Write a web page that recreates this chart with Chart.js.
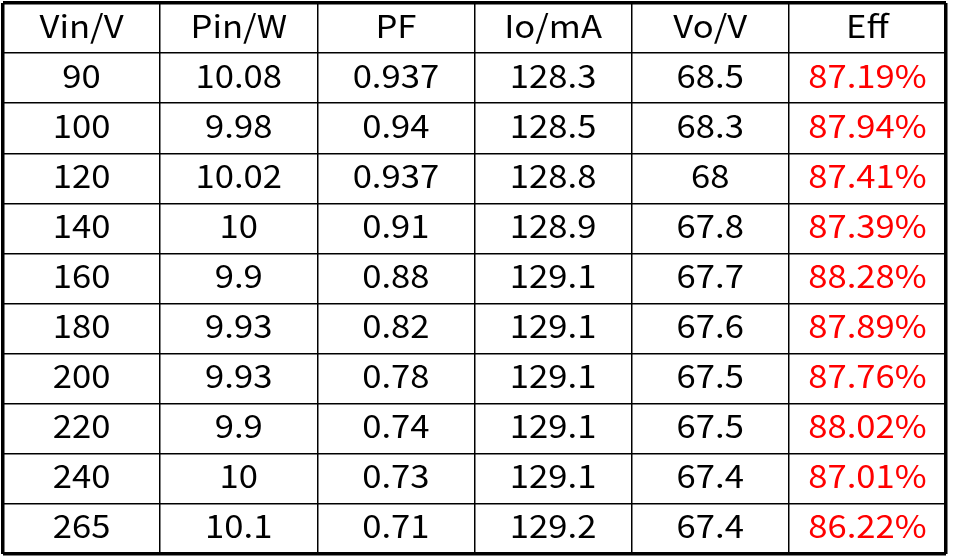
<!DOCTYPE html>
<html><head><meta charset="utf-8">
<script src="https://cdn.jsdelivr.net/npm/chart.js@4/dist/chart.umd.min.js"></script>
<style>html,body{margin:0;padding:0;background:#fff;overflow:hidden}#wrap{width:956px;height:558px;position:relative}</style>
</head><body><div id="wrap"><canvas id="c"></canvas></div>
<script>
const headers = ['Vin/V','Pin/W','PF','Io/mA','Vo/V','Eff'];
const vin = ['90','100','120','140','160','180','200','220','240','265'];
const pin = ['10.08','9.98','10.02','10','9.9','9.93','9.93','9.9','10','10.1'];
const pf  = ['0.937','0.94','0.937','0.91','0.88','0.82','0.78','0.74','0.73','0.71'];
const io  = ['128.3','128.5','128.8','128.9','129.1','129.1','129.1','129.1','129.1','129.2'];
const vo  = ['68.5','68.3','68','67.8','67.7','67.6','67.5','67.5','67.4','67.4'];
const eff = ['87.19%','87.94%','87.41%','87.39%','88.28%','87.89%','87.76%','88.02%','87.01%','86.22%'];
const rowKeys = ['head','r1','r2','r3','r4','r5','r6','r7','r8','r9','r10'];

const columns = [vin, pin, pf, io, vo, eff];
const textColors = ['#000','#000','#000','#000','#000','#ff0000'];
const FONT = '31.5px "Noto Sans CJK SC", "Noto Sans", sans-serif';

const datasets = columns.map((col, c) => ({
  label: headers[c],
  data: [headers[c], ...col].map((t, r) => ({x: headers[c], y: rowKeys[r], t: t, head: r === 0})),
  pointRadius: 0,
  pointHoverRadius: 0,
  textColor: textColors[c]
}));

const cellText = {
  id: 'cellText',
  afterDatasetsDraw(chart) {
    const ctx = chart.ctx;
    ctx.save();
    ctx.font = FONT;
    ctx.textAlign = 'center';
    ctx.textBaseline = 'alphabetic';
    chart.data.datasets.forEach((ds, di) => {
      const meta = chart.getDatasetMeta(di);
      meta.data.forEach((pt, i) => {
        const raw = ds.data[i];
        ctx.save();
        ctx.translate(pt.x, pt.y + 9.5);
        ctx.scale(1.1, 1);
        ctx.fillStyle = raw.head ? '#000' : ds.textColor;
        ctx.fillText(raw.t, 0, 0);
        ctx.restore();
      });
    });
    ctx.restore();
  }
};

const edgeWidth = c => (c.type !== 'tick' || c.index === 0) ? 3.5 : 1.5;

new Chart(document.getElementById('c'), {
  type: 'scatter',
  data: { datasets },
  options: {
    responsive: true,
    maintainAspectRatio: false,
    animation: false,
    events: [],
    layout: { padding: { left: 3, top: 3, right: 10, bottom: 4 } },
    plugins: { legend: { display: false }, tooltip: { enabled: false } },
    scales: {
      x: {
        type: 'category', labels: headers, offset: true,
        grid: { offset: true, color: '#000', lineWidth: edgeWidth, drawTicks: false },
        border: { display: false },
        ticks: { display: false }
      },
      y: {
        type: 'category', labels: rowKeys, offset: true,
        grid: { offset: true, color: '#000', lineWidth: edgeWidth, drawTicks: false },
        border: { display: false },
        ticks: { display: false }
      }
    }
  },
  plugins: [cellText]
});
</script></body></html>
